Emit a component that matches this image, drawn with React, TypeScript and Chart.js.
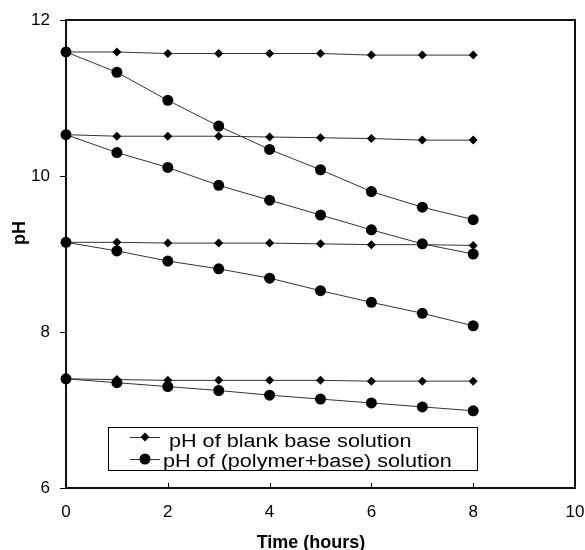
import React, { useEffect, useRef } from 'react';
import { Chart, registerables } from 'chart.js';

Chart.register(...registerables);

// ---- data ----
const hours = [0, 1, 2, 3, 4, 5, 6, 7, 8];

const blank1 = [11.59, 11.59, 11.57, 11.57, 11.57, 11.57, 11.55, 11.55, 11.55];
const blank2 = [10.53, 10.51, 10.51, 10.51, 10.5, 10.49, 10.48, 10.46, 10.46];
const blank3 = [9.15, 9.15, 9.14, 9.14, 9.14, 9.13, 9.12, 9.12, 9.11];
const blank4 = [7.4, 7.39, 7.38, 7.38, 7.38, 7.38, 7.37, 7.37, 7.37];

const poly1 = [11.59, 11.33, 10.97, 10.64, 10.34, 10.08, 9.8, 9.6, 9.44];
const poly2 = [10.53, 10.3, 10.11, 9.88, 9.69, 9.5, 9.31, 9.13, 9.0];
const poly3 = [9.15, 9.04, 8.91, 8.81, 8.69, 8.53, 8.38, 8.24, 8.08];
const poly4 = [7.4, 7.35, 7.3, 7.25, 7.19, 7.14, 7.09, 7.04, 6.99];

const blankSeries = [blank1, blank2, blank3, blank4];
const polySeries = [poly1, poly2, poly3, poly4];

const xTicks = [0, 2, 4, 6, 8, 10];
const yTicks = [6, 8, 10, 12];
const legendLabels = ['pH of blank base solution', 'pH of (polymer+base) solution'];
const xTitle = 'Time (hours)';
const yTitle = 'pH';

const FONT = "'Liberation Sans', Arial, Helvetica, sans-serif";

const toPoints = (vals: number[]) => vals.map((y, i) => ({ x: hours[i], y }));

const decorPlugin = {
  id: 'decor',
  beforeDatasetsDraw(chart: any) {
    const { ctx, chartArea: a, scales } = chart;
    ctx.save();
    ctx.strokeStyle = '#000';
    ctx.lineWidth = 1;
    xTicks.forEach((v) => {
      const px = Math.round(scales.x.getPixelForValue(v)) + 0.5;
      ctx.beginPath();
      ctx.moveTo(px, a.bottom);
      ctx.lineTo(px, a.bottom - 5);
      ctx.stroke();
    });
    ctx.lineWidth = 2;
    ctx.strokeStyle = '#111';
    ctx.strokeRect(a.left, a.top, a.right - a.left, a.bottom - a.top);
    ctx.restore();
  },
  afterDraw(chart: any) {
    const { ctx, chartArea: a } = chart;
    ctx.save();
    // axis titles
    ctx.fillStyle = '#000';
    ctx.font = `bold 18px ${FONT}`;
    ctx.textAlign = 'center';
    ctx.textBaseline = 'alphabetic';
    ctx.fillText(xTitle, a.left + 245, 548);
    ctx.save();
    ctx.translate(25, a.top + 213);
    ctx.rotate(-Math.PI / 2);
    ctx.fillText(yTitle, 0, 0);
    ctx.restore();

    // legend box
    const bx = 108.5, by = 427.5, bw = 369, bh = 43;
    ctx.fillStyle = '#fff';
    ctx.fillRect(bx, by, bw, bh);
    ctx.strokeStyle = '#000';
    ctx.lineWidth = 1;
    ctx.strokeRect(bx, by, bw, bh);

    const rows = [
      { y: 437, style: 'diamond', textX: 169, base: 447 },
      { y: 459, style: 'circle', textX: 163, base: 467 },
    ];
    rows.forEach((r, i) => {
      ctx.strokeStyle = '#333';
      ctx.lineWidth = 1;
      ctx.beginPath();
      ctx.moveTo(130, r.y + 0.5);
      ctx.lineTo(160, r.y + 0.5);
      ctx.stroke();
      ctx.fillStyle = '#000';
      ctx.beginPath();
      if (r.style === 'diamond') {
        ctx.moveTo(145, r.y - 4.5);
        ctx.lineTo(149.5, r.y);
        ctx.lineTo(145, r.y + 4.5);
        ctx.lineTo(140.5, r.y);
        ctx.closePath();
      } else {
        ctx.arc(145, r.y, 5.5, 0, Math.PI * 2);
      }
      ctx.fill();
      ctx.save();
      ctx.translate(r.textX, r.base);
      ctx.scale(1.2, 1);
      ctx.font = `18px ${FONT}`;
      ctx.textAlign = 'left';
      ctx.fillText(legendLabels[i], 0, 0);
      ctx.restore();
    });
    ctx.restore();
  },
};

export default function App() {
  const ref = useRef<HTMLCanvasElement>(null);

  useEffect(() => {
    document.body.style.margin = '0';
    const canvas = ref.current;
    if (!canvas) return;

    const datasets: any[] = [];
    blankSeries.forEach((vals) => {
      datasets.push({
        data: toPoints(vals),
        borderColor: '#333',
        borderWidth: 1,
        pointStyle: 'rectRot',
        pointRadius: 4.5,
        pointBackgroundColor: '#000',
        pointBorderColor: '#000',
        pointBorderWidth: 0,
        clip: false,
        tension: 0,
      });
    });
    polySeries.forEach((vals) => {
      datasets.push({
        data: toPoints(vals),
        borderColor: '#333',
        borderWidth: 1,
        pointStyle: 'circle',
        pointRadius: 5.5,
        pointBackgroundColor: '#000',
        pointBorderColor: '#000',
        pointBorderWidth: 0,
        clip: false,
        tension: 0,
      });
    });

    const chart = new Chart(canvas, {
      type: 'line',
      data: { datasets },
      plugins: [decorPlugin],
      options: {
        animation: false,
        responsive: false,
        events: [],
        layout: { padding: { top: 20, right: 10, left: 0, bottom: 0 } },
        plugins: { legend: { display: false }, tooltip: { enabled: false } },
        scales: {
          x: {
            type: 'linear',
            min: 0,
            max: 10,
            afterBuildTicks: (s: any) => {
              s.ticks = xTicks.map((v) => ({ value: v }));
            },
            afterFit: (s: any) => {
              s.height = 62;
              s.paddingLeft = 0;
              s.paddingRight = 0;
            },
            grid: { display: false },
            border: { display: false },
            ticks: {
              color: '#000',
              padding: 6,
              maxRotation: 0,
              font: { family: FONT, size: 17 },
            },
          },
          y: {
            type: 'linear',
            min: 6,
            max: 12,
            afterBuildTicks: (s: any) => {
              s.ticks = yTicks.map((v) => ({ value: v }));
            },
            afterFit: (s: any) => {
              s.width = 66;
              s.paddingTop = 0;
              s.paddingBottom = 0;
            },
            grid: {
              display: true,
              drawOnChartArea: false,
              drawTicks: true,
              tickLength: 6,
              color: '#000',
              lineWidth: 1,
            },
            border: { display: false },
            ticks: {
              color: '#000',
              padding: 10,
              font: { family: FONT, size: 17 },
            },
          },
        },
      },
    });
    return () => chart.destroy();
  }, []);

  return (
    <div style={{ width: 585, height: 550 }}>
      <canvas ref={ref} width={585} height={550} />
    </div>
  );
}
